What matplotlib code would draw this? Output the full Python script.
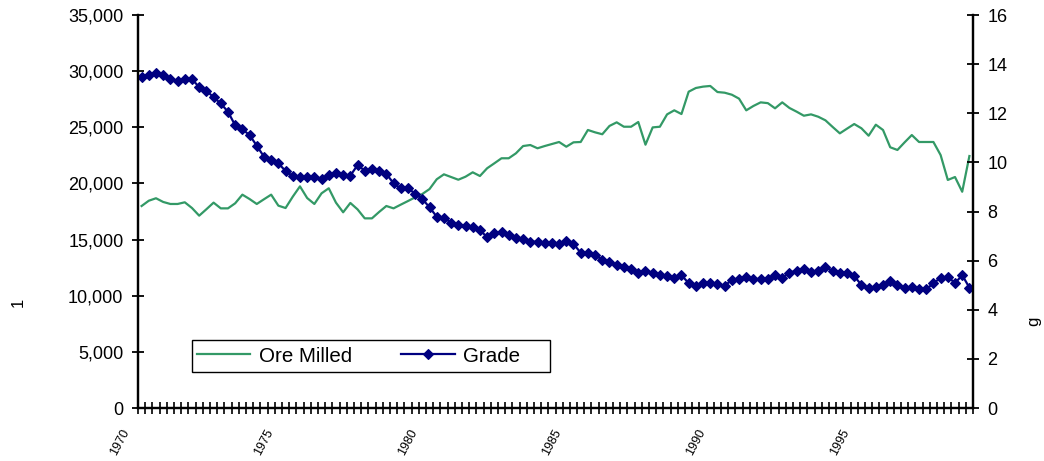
import matplotlib
matplotlib.use("Agg")
import matplotlib.pyplot as plt
import numpy as np
from matplotlib.patches import Rectangle
from matplotlib.ticker import FixedLocator, FuncFormatter
from matplotlib.transforms import ScaledTranslation

plt.rcParams['font.family'] = ['Liberation Sans', 'DejaVu Sans']

# quarterly data, 1970 Q1 .. 1998 Q4
years = list(range(1970, 1999))
year_labels = ["1970", "1975", "1980", "1985", "1990", "1995"]

ore_milled = [
    17990, 18460, 18680, 18350, 18170, 18170, 18320, 17810, 17130, 17700,
    18290, 17780, 17780, 18230, 19000, 18610, 18170, 18590, 19000, 18020,
    17810, 18820, 19740, 18700, 18170, 19120, 19570, 18290, 17430, 18260,
    17690, 16890, 16890, 17460, 17990, 17780, 18110, 18430, 18760, 19060,
    19500, 20370, 20810, 20570, 20330, 20600, 20990, 20660, 21350, 21790,
    22240, 22240, 22680, 23330, 23420, 23130, 23330, 23510, 23690, 23270,
    23660, 23690, 24760, 24550, 24380, 25120, 25440, 25050, 25050, 25470,
    23450, 24990, 25050, 26150, 26510, 26180, 28170, 28500, 28620, 28680,
    28140, 28080, 27900, 27550, 26510, 26900, 27220, 27150, 26690, 27220,
    26720, 26390, 26030, 26150, 25940, 25620, 25030, 24460, 24880, 25290,
    24910, 24250, 25230, 24760, 23220, 22980, 23660, 24310, 23690, 23690,
    23690, 22530, 20310, 20570, 19260, 22440,
]

grade = [
    13.49, 13.56, 13.65, 13.54, 13.38, 13.32, 13.39, 13.39, 13.06, 12.92,
    12.65, 12.40, 12.06, 11.51, 11.35, 11.11, 10.68, 10.23, 10.10, 9.96,
    9.65, 9.44, 9.39, 9.39, 9.39, 9.31, 9.49, 9.58, 9.49, 9.46,
    9.89, 9.66, 9.72, 9.65, 9.53, 9.15, 8.94, 8.97, 8.71, 8.51,
    8.17, 7.79, 7.75, 7.54, 7.45, 7.42, 7.36, 7.25, 6.95, 7.11,
    7.18, 7.04, 6.91, 6.87, 6.77, 6.77, 6.70, 6.70, 6.69, 6.80,
    6.68, 6.32, 6.30, 6.23, 6.03, 5.96, 5.82, 5.73, 5.65, 5.51,
    5.58, 5.51, 5.41, 5.37, 5.30, 5.41, 5.08, 4.97, 5.08, 5.08,
    5.04, 4.98, 5.21, 5.24, 5.35, 5.24, 5.26, 5.25, 5.41, 5.30,
    5.51, 5.59, 5.66, 5.55, 5.58, 5.73, 5.59, 5.51, 5.51, 5.37,
    5.01, 4.87, 4.94, 4.99, 5.17, 5.01, 4.90, 4.91, 4.83, 4.83,
    5.08, 5.30, 5.35, 5.08, 5.41, 4.90,
]

GREEN = "#339966"
NAVY = "#000080"

n = len(ore_milled)
x = np.arange(n)

fig = plt.figure(figsize=(10.44, 4.61), dpi=100)
ax = fig.add_axes([138 / 1044, 1 - 408 / 461, 835 / 1044, 393 / 461])
ax2 = ax.twinx()

l1, = ax.plot(x, ore_milled, color=GREEN, lw=1.6, label="Ore Milled")
l2, = ax2.plot(x, grade, color=NAVY, lw=1.6, marker="D", ms=5.5,
               markeredgewidth=0.8, label="Grade")

ax.set_xlim(-0.5, n - 0.5)
ax.set_ylim(0, 35000)
ax2.set_ylim(0, 16)
ax.set_yticks(range(0, 35001, 5000))
ax.yaxis.set_major_formatter(FuncFormatter(lambda v, p: f"{int(v):,}"))
ax2.set_yticks(range(0, 17, 2))

for a in (ax, ax2):
    a.spines["top"].set_visible(False)
    for s in a.spines.values():
        s.set_linewidth(1.6)
    a.tick_params(axis="y", direction="inout", length=9, width=1.3,
                  labelsize=13, pad=6)

# category boundaries carry the tick marks, year labels sit on the first quarter
ax.xaxis.set_major_locator(FixedLocator(np.arange(-0.5, n, 1.0)))
ax.xaxis.set_major_formatter(FuncFormatter(lambda v, p: ""))
label_pos = [(int(y) - years[0]) * 4 for y in year_labels]
ax.xaxis.set_minor_locator(FixedLocator(label_pos))
ax.set_xticklabels(year_labels, minor=True)
ax.tick_params(axis="x", which="major", direction="inout", length=8,
               width=1.2)
ax.tick_params(axis="x", which="minor", length=0, labelsize=9, pad=16)
off = ScaledTranslation(-15 / 100, 0, fig.dpi_scale_trans)
for lab in ax.get_xticklabels(minor=True):
    lab.set_rotation(62)
    lab.set_rotation_mode("anchor")
    lab.set_ha("right")
    lab.set_va("center")
    lab.set_transform(lab.get_transform() + off)

ax.set_ylabel("1", fontsize=12, rotation=90)
ax.yaxis.set_label_coords(-0.134, 0.27)
ax2.set_ylabel("g", fontsize=12, rotation=90)
ax2.yaxis.set_label_coords(1.064, 0.22)

# legend entries without their own frame, box drawn separately (Excel leaves
# empty room on the right)
leg = ax.legend([l1, l2], ["Ore Milled", "Grade"], ncol=2,
                loc="center left", bbox_to_anchor=(0.0707, 0.1323),
                frameon=False, fontsize=14.8, handlelength=2.6,
                columnspacing=2.4, borderpad=0, handletextpad=0.4,
                borderaxespad=0)
ax.add_patch(Rectangle((0.0647, 0.0916), 0.4287, 0.0814,
                       transform=ax.transAxes, fill=False, ec="black",
                       lw=1.0, zorder=5, clip_on=False))

fig.savefig("out.png", dpi=100)
